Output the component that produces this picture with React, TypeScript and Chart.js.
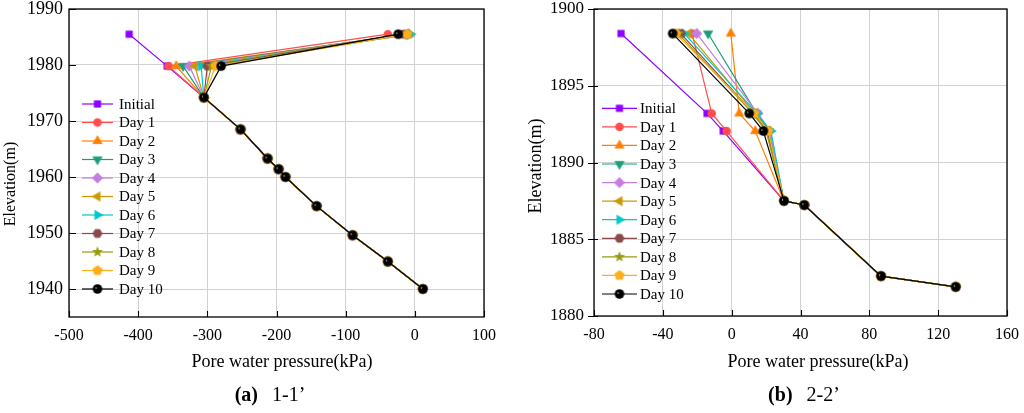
import React, { useEffect, useRef } from "react";
import { Chart, registerables } from "chart.js";

Chart.register(...registerables);

const FONT = "'Liberation Serif', 'Times New Roman', Times, serif";

const seriesNames = ["Initial", "Day 1", "Day 2", "Day 3", "Day 4", "Day 5", "Day 6", "Day 7", "Day 8", "Day 9", "Day 10"];
const seriesColors = ["#8f00ff", "#ff4d4d", "#ff8000", "#1b9e77", "#c47ee0", "#cc9900", "#00c8c8", "#8b4a4a", "#9a9a10", "#ffad1a", "#000000"];
const markerShapes = ["square", "circle", "triangleUp", "triangleDown", "diamond", "triangleLeft", "triangleRight", "hexagon", "star", "pentagon", "sphere"];

// ---- Panel (a) 1-1'
const elevA = [1985.5, 1979.8, 1974.2, 1968.5, 1963.3, 1961.4, 1960.0, 1954.8, 1949.6, 1944.9, 1940.0];
const topPressureA = [-413, -39, -8, -12, -10, -14, -6, -16, -9, -11, -24];
const midPressureA = [-358, -356, -345, -335, -326, -318, -309, -300, -294, -288, -280];
const sharedPressureA = [-305, -252, -213, -197, -187, -142, -90, -39, 11.6];
const xRangeA = [-500, 100];
const yRangeA = [1935, 1990];
const xTicksA = [-500, -400, -300, -200, -100, 0, 100];
const yTicksA = [1940, 1950, 1960, 1970, 1980, 1990];

// ---- Panel (b) 2-2'
const elevB = [1898.4, 1893.2, 1892.05, 1887.5, 1887.23, 1882.6, 1881.9];
const topPressureB = [-64.3, -23, -0.5, -13.7, -20.3, -25, -27.5, -29.5, -31, -32.5, -34.3];
const upperPressureB = [-14.3, -11.6, 4.4, 14.5, 15.2, 13.5, 14.8, 12.8, 12.2, 13.2, 10.2];
const lowerPressureB = [-4.9, -2.9, 13.7, 21.6, 22.2, 21.0, 22.8, 20.6, 20.0, 21.2, 18.4];
const sharedPressureB = [30.4, 42.2, 86.8, 130.2];
const xRangeB = [-80, 160];
const yRangeB = [1880, 1900];
const xTicksB = [-80, -40, 0, 40, 80, 120, 160];
const yTicksB = [1880, 1885, 1890, 1895, 1900];

const xTitle = "Pore water pressure(kPa)";
const yTitle = "Elevation(m)";

function makeMarker(shape: string, color: string): HTMLCanvasElement {
  const S = 14;
  const cv = document.createElement("canvas");
  cv.width = S;
  cv.height = S;
  const g = cv.getContext("2d")!;
  const c = S / 2;
  g.fillStyle = color;
  g.strokeStyle = color;
  g.lineWidth = 0.8;
  const poly = (n: number, r: number, startDeg: number) => {
    g.beginPath();
    for (let k = 0; k < n; k++) {
      const a = ((startDeg + (360 / n) * k) * Math.PI) / 180;
      const px = c + r * Math.cos(a);
      const py = c + r * Math.sin(a);
      if (k === 0) g.moveTo(px, py);
      else g.lineTo(px, py);
    }
    g.closePath();
    g.fill();
    g.stroke();
  };
  switch (shape) {
    case "square":
      g.fillRect(c - 3.6, c - 3.6, 7.2, 7.2);
      break;
    case "circle":
      g.beginPath();
      g.arc(c, c, 4.3, 0, Math.PI * 2);
      g.fill();
      break;
    case "triangleUp":
      poly(3, 5.3, -90);
      break;
    case "triangleDown":
      poly(3, 5.3, 90);
      break;
    case "triangleLeft":
      poly(3, 5.3, 180);
      break;
    case "triangleRight":
      poly(3, 5.3, 0);
      break;
    case "diamond":
      poly(4, 5.2, -90);
      break;
    case "hexagon":
      poly(6, 4.6, 0);
      break;
    case "pentagon":
      poly(5, 4.9, -90);
      break;
    case "star": {
      g.beginPath();
      for (let k = 0; k < 10; k++) {
        const r = k % 2 === 0 ? 5.8 : 2.4;
        const a = ((-90 + 36 * k) * Math.PI) / 180;
        const px = c + r * Math.cos(a);
        const py = c + r * Math.sin(a);
        if (k === 0) g.moveTo(px, py);
        else g.lineTo(px, py);
      }
      g.closePath();
      g.fill();
      break;
    }
    case "sphere": {
      g.fillStyle = "#000";
      g.beginPath();
      g.arc(c, c, 4.8, 0, Math.PI * 2);
      g.fill();
      const hx = c - 1.4;
      const hy = c - 1.0;
      const grd = g.createRadialGradient(hx, hy, 0, hx, hy, 1.2);
      grd.addColorStop(0, "rgba(255,255,255,0.95)");
      grd.addColorStop(1, "rgba(255,255,255,0)");
      g.fillStyle = grd;
      g.beginPath();
      g.arc(hx, hy, 1.2, 0, Math.PI * 2);
      g.fill();
      break;
    }
  }
  return cv;
}

type Panel = {
  datasets: { x: number; y: number }[][];
  xRange: number[];
  yRange: number[];
  xTicks: number[];
  yTicks: number[];
  area: { left: number; right: number; top: number; bottom: number };
  yTickFont: number;
  yTickPad: number;
  tickOut: number;
  tickIn: number;
  xTitlePos: number[];
  yTitlePos: number[];
  yTitleFont: number;
  legend: { y: number; step: number; x1: number; x2: number; mx: number; tx: number };
  caption: { tag: string; text: string; cx: number; cy: number };
};

const W = 512;
const H = 413;

function buildConfig(p: Panel, markers: HTMLCanvasElement[]): any {
  const datasets = p.datasets.map((pts, i) => ({
    label: seriesNames[i],
    data: pts,
    showLine: true,
    borderColor: seriesColors[i],
    backgroundColor: seriesColors[i],
    borderWidth: 1.2,
    pointStyle: markers[i],
    pointRadius: 4,
    pointHoverRadius: 4,
    tension: 0,
    order: seriesNames.length - i,
  }));

  const decor = {
    id: "decor",
    afterDraw(chart: any) {
      const { ctx, chartArea: a, scales } = chart;
      ctx.save();
      // frame
      ctx.strokeStyle = "#000";
      ctx.lineWidth = 1.3;
      ctx.strokeRect(a.left, a.top, a.right - a.left, a.bottom - a.top);
      // ticks
      ctx.lineWidth = 1.1;
      ctx.beginPath();
      p.xTicks.forEach((v) => {
        const x = Math.round(scales.x.getPixelForValue(v)) + 0.5;
        ctx.moveTo(x, a.bottom);
        ctx.lineTo(x, a.bottom - 6);
      });
      p.yTicks.forEach((v) => {
        const y = Math.round(scales.y.getPixelForValue(v)) + 0.5;
        ctx.moveTo(a.left - p.tickOut, y);
        ctx.lineTo(a.left + p.tickIn, y);
      });
      ctx.stroke();

      // legend
      ctx.font = `15px ${FONT}`;
      ctx.textBaseline = "middle";
      ctx.textAlign = "left";
      seriesNames.forEach((name, i) => {
        const y = p.legend.y + i * p.legend.step;
        ctx.strokeStyle = seriesColors[i];
        ctx.lineWidth = 1.2;
        ctx.beginPath();
        ctx.moveTo(p.legend.x1, y);
        ctx.lineTo(p.legend.x2, y);
        ctx.stroke();
        const m = markers[i];
        ctx.drawImage(m, p.legend.mx - m.width / 2, y - m.height / 2);
        ctx.fillStyle = "#000";
        ctx.fillText(name, p.legend.tx, y + 1);
      });

      // x title
      ctx.fillStyle = "#000";
      ctx.font = `18px ${FONT}`;
      ctx.textAlign = "center";
      ctx.fillText(xTitle, p.xTitlePos[0], p.xTitlePos[1]);

      // y title
      ctx.save();
      ctx.translate(p.yTitlePos[0], p.yTitlePos[1]);
      ctx.rotate(-Math.PI / 2);
      ctx.font = `${p.yTitleFont}px ${FONT}`;
      ctx.fillText(yTitle, 0, 0);
      ctx.restore();

      // caption
      ctx.textAlign = "left";
      ctx.font = `bold 20px ${FONT}`;
      const w1 = ctx.measureText(p.caption.tag).width;
      ctx.font = `20px ${FONT}`;
      const w2 = ctx.measureText(p.caption.text).width;
      const gap = 14;
      const x0 = p.caption.cx - (w1 + gap + w2) / 2;
      ctx.font = `bold 20px ${FONT}`;
      ctx.fillText(p.caption.tag, x0, p.caption.cy);
      ctx.font = `20px ${FONT}`;
      ctx.fillText(p.caption.text, x0 + w1 + gap, p.caption.cy);
      ctx.restore();
    },
  };

  const xAxisH = 30;
  const zeroPad = (s: any) => {
    s.paddingTop = 0;
    s.paddingBottom = 0;
    s.paddingLeft = 0;
    s.paddingRight = 0;
  };

  return {
    type: "scatter",
    data: { datasets },
    options: {
      responsive: false,
      animation: false,
      events: [],
      layout: {
        padding: {
          left: 0,
          top: p.area.top,
          right: W - p.area.right,
          bottom: H - p.area.bottom - xAxisH,
        },
      },
      plugins: { legend: { display: false }, tooltip: { enabled: false } },
      scales: {
        x: {
          type: "linear",
          min: p.xRange[0],
          max: p.xRange[1],
          afterBuildTicks: (s: any) => {
            s.ticks = p.xTicks.map((v) => ({ value: v }));
          },
          afterFit: (s: any) => {
            s.height = xAxisH;
            zeroPad(s);
          },
          grid: { color: "#d2d2d2", lineWidth: 1, drawTicks: false },
          border: { display: false },
          ticks: {
            padding: 9,
            color: "#000",
            font: { family: FONT, size: 16 },
            maxRotation: 0,
            autoSkip: false,
            callback: (v: any) => String(v),
          },
        },
        y: {
          type: "linear",
          min: p.yRange[0],
          max: p.yRange[1],
          afterBuildTicks: (s: any) => {
            s.ticks = p.yTicks.map((v) => ({ value: v }));
          },
          afterFit: (s: any) => {
            s.width = p.area.left;
            zeroPad(s);
          },
          grid: { color: "#d2d2d2", lineWidth: 1, drawTicks: false },
          border: { display: false },
          ticks: {
            padding: p.yTickPad,
            color: "#000",
            font: { family: FONT, size: p.yTickFont },
            autoSkip: false,
            callback: (v: any) => String(v),
          },
        },
      },
    },
    plugins: [decor],
  };
}

function panelA(): Panel {
  const datasets = seriesNames.map((_, i) => [
    { x: topPressureA[i], y: elevA[0] },
    { x: midPressureA[i], y: elevA[1] },
    ...sharedPressureA.map((x, k) => ({ x, y: elevA[k + 2] })),
  ]);
  return {
    datasets,
    xRange: xRangeA,
    yRange: yRangeA,
    xTicks: xTicksA,
    yTicks: yTicksA,
    area: { left: 69, right: 484, top: 9, bottom: 317 },
    yTickFont: 18,
    yTickPad: 6,
    tickOut: 0,
    tickIn: 7,
    xTitlePos: [282, 362],
    yTitlePos: [11, 184],
    yTitleFont: 16,
    legend: { y: 104, step: 18.5, x1: 82, x2: 113, mx: 97.5, tx: 119 },
    caption: { tag: "(a)", text: "1-1\u2019", cx: 270, cy: 396 },
  };
}

function panelB(): Panel {
  const datasets = seriesNames.map((_, i) => [
    { x: topPressureB[i], y: elevB[0] },
    { x: upperPressureB[i], y: elevB[1] },
    { x: lowerPressureB[i], y: elevB[2] },
    ...sharedPressureB.map((x, k) => ({ x, y: elevB[k + 3] })),
  ]);
  const off = 512;
  return {
    datasets,
    xRange: xRangeB,
    yRange: yRangeB,
    xTicks: xTicksB,
    yTicks: yTicksB,
    area: { left: 594 - off, right: 1007 - off, top: 9, bottom: 316 },
    yTickFont: 17,
    yTickPad: 10,
    tickOut: 6,
    tickIn: 4,
    xTitlePos: [818 - off, 362],
    yTitlePos: [536 - off, 166],
    yTitleFont: 18,
    legend: { y: 108.3, step: 18.57, x1: 602 - off, x2: 637 - off, mx: 619.5 - off, tx: 640 - off },
    caption: { tag: "(b)", text: "2-2\u2019", cx: 804 - off, cy: 396 },
  };
}

export default function App() {
  const refA = useRef<HTMLCanvasElement>(null);
  const refB = useRef<HTMLCanvasElement>(null);

  useEffect(() => {
    const markers = markerShapes.map((s, i) => makeMarker(s, seriesColors[i]));
    const charts = [
      new Chart(refA.current!, buildConfig(panelA(), markers)),
      new Chart(refB.current!, buildConfig(panelB(), markers)),
    ];
    return () => charts.forEach((c) => c.destroy());
  }, []);

  return (
    <div style={{ position: "absolute", left: 0, top: 0, width: 1024, height: 413, background: "#fff" }}>
      <canvas ref={refA} width={W} height={H} style={{ position: "absolute", left: 0, top: 0 }} />
      <canvas ref={refB} width={W} height={H} style={{ position: "absolute", left: 512, top: 0 }} />
    </div>
  );
}
